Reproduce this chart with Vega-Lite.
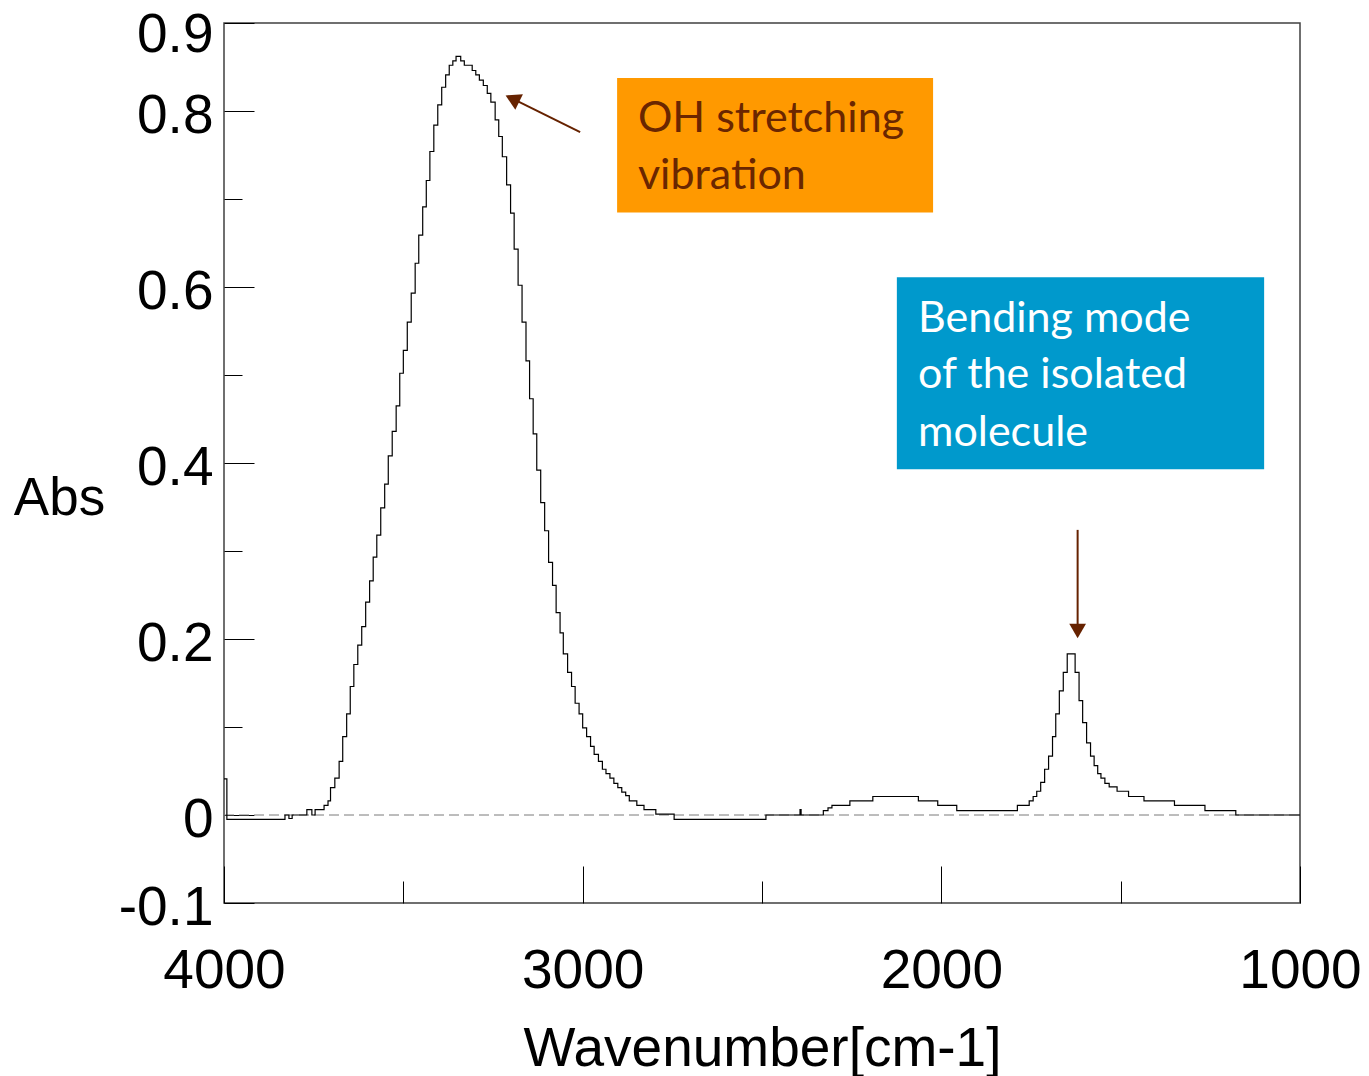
{
  "$schema": "https://vega.github.io/schema/vega-lite/v6.json",
  "width": 1076,
  "height": 880,
  "autosize": {"type": "none"},
  "padding": {"left": 224, "top": 23, "right": 69, "bottom": 173},
  "background": "white",
  "config": {
    "view": {"stroke": "#404040", "strokeWidth": 1.5}
  },
  "datasets": {
    "spectrum": [
      {"wn":4000,"abs":0.041},{"wn":3992,"abs":-0.005},{"wn":3830,"abs":0.0},{"wn":3819,"abs":-0.004},{"wn":3810,"abs":0.0},
      {"wn":3769,"abs":0.006},{"wn":3755,"abs":0.0},{"wn":3746,"abs":0.006},{"wn":3721,"abs":0.011},{"wn":3710,"abs":0.016},
      {"wn":3703,"abs":0.031},{"wn":3691,"abs":0.042},{"wn":3679,"abs":0.061},{"wn":3669,"abs":0.089},{"wn":3658,"abs":0.115},
      {"wn":3648,"abs":0.146},{"wn":3638,"abs":0.171},{"wn":3627,"abs":0.193},{"wn":3616,"abs":0.214},{"wn":3605,"abs":0.242},
      {"wn":3594,"abs":0.266},{"wn":3584,"abs":0.293},{"wn":3574,"abs":0.318},{"wn":3563,"abs":0.349},{"wn":3552,"abs":0.376},
      {"wn":3542,"abs":0.408},{"wn":3531,"abs":0.436},{"wn":3520,"abs":0.465},{"wn":3510,"abs":0.502},{"wn":3500,"abs":0.528},
      {"wn":3489,"abs":0.560},{"wn":3478,"abs":0.593},{"wn":3467,"abs":0.627},{"wn":3457,"abs":0.659},{"wn":3446,"abs":0.691},
      {"wn":3436,"abs":0.721},{"wn":3426,"abs":0.754},{"wn":3415,"abs":0.784},{"wn":3404,"abs":0.807},{"wn":3393,"abs":0.827},
      {"wn":3382,"abs":0.841},{"wn":3372,"abs":0.852},{"wn":3362,"abs":0.857},{"wn":3353,"abs":0.862},{"wn":3340,"abs":0.857},
      {"wn":3330,"abs":0.852},{"wn":3308,"abs":0.846},{"wn":3298,"abs":0.841},{"wn":3288,"abs":0.835},{"wn":3277,"abs":0.829},
      {"wn":3266,"abs":0.820},{"wn":3256,"abs":0.810},{"wn":3244,"abs":0.790},{"wn":3234,"abs":0.771},{"wn":3224,"abs":0.748},
      {"wn":3212,"abs":0.716},{"wn":3201,"abs":0.684},{"wn":3191,"abs":0.643},{"wn":3180,"abs":0.602},{"wn":3169,"abs":0.560},
      {"wn":3158,"abs":0.516},{"wn":3148,"abs":0.473},{"wn":3138,"abs":0.433},{"wn":3128,"abs":0.392},{"wn":3117,"abs":0.355},
      {"wn":3106,"abs":0.323},{"wn":3095,"abs":0.287},{"wn":3084,"abs":0.261},{"wn":3074,"abs":0.230},{"wn":3063,"abs":0.207},
      {"wn":3054,"abs":0.183},{"wn":3042,"abs":0.162},{"wn":3031,"abs":0.146},{"wn":3021,"abs":0.127},{"wn":3010,"abs":0.115},
      {"wn":3000,"abs":0.099},{"wn":2989,"abs":0.089},{"wn":2978,"abs":0.078},{"wn":2968,"abs":0.069},{"wn":2956,"abs":0.061},
      {"wn":2945,"abs":0.052},{"wn":2935,"abs":0.047},{"wn":2924,"abs":0.042},{"wn":2913,"abs":0.036},{"wn":2902,"abs":0.031},
      {"wn":2891,"abs":0.026},{"wn":2880,"abs":0.022},{"wn":2870,"abs":0.016},{"wn":2849,"abs":0.011},{"wn":2829,"abs":0.006},
      {"wn":2796,"abs":0.001},{"wn":2745,"abs":-0.005},{"wn":2489,"abs":0.0},{"wn":2394,"abs":0.006},{"wn":2391,"abs":0.0},
      {"wn":2329,"abs":0.005},{"wn":2316,"abs":0.008},{"wn":2305,"abs":0.011},{"wn":2255,"abs":0.016},{"wn":2191,"abs":0.021},
      {"wn":2064,"abs":0.016},{"wn":2010,"abs":0.011},{"wn":1957,"abs":0.005},{"wn":1788,"abs":0.011},{"wn":1755,"abs":0.016},
      {"wn":1744,"abs":0.021},{"wn":1734,"abs":0.027},{"wn":1723,"abs":0.037},{"wn":1712,"abs":0.052},{"wn":1701,"abs":0.067},
      {"wn":1690,"abs":0.089},{"wn":1681,"abs":0.115},{"wn":1671,"abs":0.141},{"wn":1660,"abs":0.162},{"wn":1649,"abs":0.183},
      {"wn":1627,"abs":0.162},{"wn":1616,"abs":0.130},{"wn":1606,"abs":0.105},{"wn":1595,"abs":0.082},{"wn":1584,"abs":0.067},
      {"wn":1574,"abs":0.056},{"wn":1564,"abs":0.047},{"wn":1555,"abs":0.042},{"wn":1544,"abs":0.036},{"wn":1532,"abs":0.032},
      {"wn":1510,"abs":0.027},{"wn":1478,"abs":0.021},{"wn":1435,"abs":0.016},{"wn":1350,"abs":0.011},{"wn":1265,"abs":0.005},
      {"wn":1179,"abs":0.0},{"wn":1000,"abs":0.0}
    ],
    "boxes": [
      {"box":"OH stretching","wn":2904,"wn2":2023,"abs":0.8375,"abs2":0.6847},
      {"box":"Bending mode","wn":2124,"wn2":1100,"abs":0.611,"abs2":0.3928}
    ],
    "notes": [
      {"box":"OH stretching","wn":2846,"abs":0.7765,"text":"OH stretching"},
      {"box":"OH stretching","wn":2846,"abs":0.7114,"text":"vibration"},
      {"box":"Bending mode","wn":2065,"abs":0.5492,"text":"Bending mode"},
      {"box":"Bending mode","wn":2065,"abs":0.4852,"text":"of the isolated"},
      {"box":"Bending mode","wn":2065,"abs":0.4193,"text":"molecule"}
    ],
    "arrows": [
      {"box":"OH stretching","wn":3007,"abs":0.776,"wn2":3193,"abs2":0.8136},
      {"box":"Bending mode","wn":1620,"abs":0.324,"wn2":1620,"abs2":0.212}
    ],
    "heads": [
      {"box":"OH stretching","wn":3196,"abs":0.814},
      {"box":"Bending mode","wn":1620,"abs":0.209}
    ]
  },
  "encoding": {
    "x": {
      "field": "wn",
      "type": "quantitative",
      "scale": {"domain": [1000, 4000], "reverse": true, "nice": false, "zero": false},
      "axis": {
        "values": [4000, 3500, 3000, 2500, 2000, 1500, 1000],
        "labelExpr": "datum.value % 1000 == 0 ? format(datum.value, 'd') : ''",
        "tickSize": {"condition": {"test": "datum.value % 1000 == 0", "value": -37}, "value": -22},
        "tickColor": "black",
        "tickWidth": 1,
        "domain": false,
        "grid": false,
        "labelFont": "Liberation Sans",
        "labelFontSize": 55,
        "labelColor": "black",
        "labelBaseline": "alphabetic",
        "labelPadding": 121,
        "labelFlush": false,
        "labelOverlap": false,
        "labelBound": false,
        "title": "Wavenumber[cm-1]",
        "titleFont": "Liberation Sans",
        "titleFontSize": 55,
        "titleFontWeight": "normal",
        "titleColor": "black",
        "titleX": 538,
        "titleY": 162,
        "titleAlign": "center",
        "titleBaseline": "alphabetic"
      }
    },
    "y": {
      "field": "abs",
      "type": "quantitative",
      "scale": {"domain": [-0.1, 0.9], "nice": false, "zero": false},
      "axis": {
        "values": [-0.1, 0, 0.1, 0.2, 0.3, 0.4, 0.5, 0.6, 0.7, 0.8, 0.9],
        "labelExpr": "(round(datum.value*10) % 2 == 0 || datum.value > 0.85 || datum.value < -0.05) ? replace(format(datum.value, '.1~f'), '\u2212', '-') : ''",
        "tickSize": {"condition": {"test": "round(datum.value*10) % 2 == 0 || datum.value > 0.85 || datum.value < -0.05", "value": -30}, "value": -18},
        "tickColor": "black",
        "tickWidth": 1,
        "domain": false,
        "grid": false,
        "labelFont": "Liberation Sans",
        "labelFontSize": 55,
        "labelColor": "black",
        "labelAlign": "right",
        "labelBaseline": "middle",
        "labelOffset": {"condition": {"test": "datum.value > 0.85", "value": 11}, "value": 4},
        "labelPadding": 41,
        "labelFlush": false,
        "labelOverlap": false,
        "labelBound": false,
        "title": "Abs",
        "titleFont": "Liberation Sans",
        "titleFontSize": 53,
        "titleFontWeight": "normal",
        "titleColor": "black",
        "titleAngle": 0,
        "titleX": -165,
        "titleY": 475,
        "titleAlign": "center",
        "titleBaseline": "middle"
      }
    }
  },
  "layer": [
    {
      "data": {"values": [{"wn": 4000, "wn2": 1000, "abs": 0}]},
      "mark": {"type": "rule", "color": "#7a7a7a", "strokeWidth": 1, "strokeDash": [10, 5]},
      "encoding": {"x2": {"field": "wn2"}}
    },
    {
      "data": {"name": "spectrum"},
      "mark": {"type": "line", "interpolate": "step-after", "color": "black", "strokeWidth": 1.2},
      "encoding": {"order": {"field": "wn", "type": "quantitative", "sort": "descending"}}
    },
    {
      "data": {"name": "boxes"},
      "mark": {"type": "rect", "opacity": 1},
      "encoding": {
        "x2": {"field": "wn2"},
        "y2": {"field": "abs2"},
        "color": {"field": "box", "type": "nominal", "scale": {"domain": ["OH stretching", "Bending mode"], "range": ["#FF9900", "#0099CC"]}, "legend": null}
      }
    },
    {
      "data": {"name": "notes"},
      "transform": [{"filter": "datum.box == 'OH stretching'"}],
      "mark": {"type": "text", "align": "left", "baseline": "alphabetic", "font": "Lato", "fontSize": 43, "color": "#6a2600"},
      "encoding": {"text": {"field": "text"}}
    },
    {
      "data": {"name": "notes"},
      "transform": [{"filter": "datum.box == 'Bending mode'"}],
      "mark": {"type": "text", "align": "left", "baseline": "alphabetic", "font": "Lato", "fontSize": 43, "color": "white"},
      "encoding": {"text": {"field": "text"}}
    },
    {
      "data": {"name": "arrows"},
      "mark": {"type": "rule", "color": "#662200", "strokeWidth": 2},
      "encoding": {"x2": {"field": "wn2"}, "y2": {"field": "abs2"}}
    },
    {
      "data": {"name": "heads"},
      "transform": [{"filter": "datum.box == 'OH stretching'"}],
      "mark": {"type": "point", "shape": "triangle-up", "angle": 296, "size": 300, "filled": true, "opacity": 1, "color": "#662200"}
    },
    {
      "data": {"name": "heads"},
      "transform": [{"filter": "datum.box == 'Bending mode'"}],
      "mark": {"type": "point", "shape": "triangle-down", "size": 280, "filled": true, "opacity": 1, "color": "#662200"}
    }
  ]
}
